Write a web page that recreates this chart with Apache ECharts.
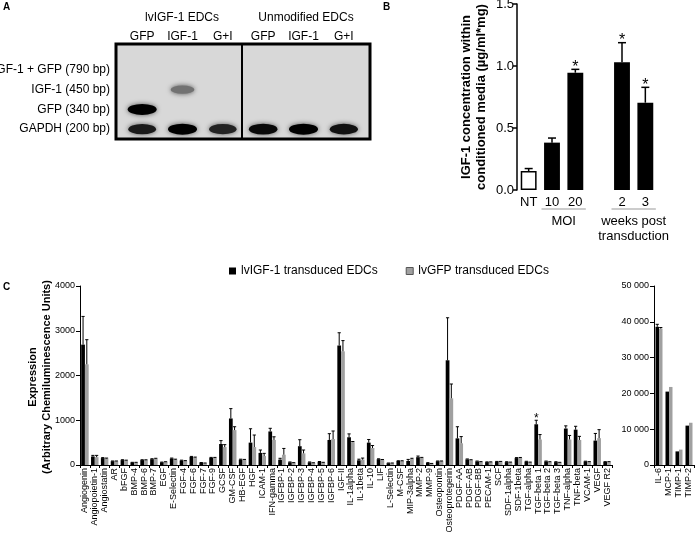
<!DOCTYPE html>
<html><head><meta charset="utf-8">
<script src="https://cdn.jsdelivr.net/npm/echarts@6/dist/echarts.min.js"></script>
<style>html,body{margin:0;padding:0;background:#fff}#c{width:695px;height:533px}</style>
</head><body><div id="c"></div>
<script>
const FONT = '"Liberation Sans", Arial, sans-serif';

// ---- Panel A (gel) ----
const gelLanes = ['GFP', 'IGF-1', 'G+I', 'GFP', 'IGF-1', 'G+I'];
const gelRows = ['GAPDH (200 bp)', 'GFP (340 bp)', 'IGF-1 (450 bp)', 'IGF-1 + GFP (790 bp)'];
// [lane index, row index, band intensity 0..1]
const gelBands = [[0, 1, 1.0], [0, 0, 0.85], [1, 2, 0.35], [1, 0, 1.0], [2, 0, 0.8], [3, 0, 0.95], [4, 0, 1.0], [5, 0, 0.9]];

// ---- Panel B ----
const bCats = ['NT', '10', '20', '', '2', '3'];
const bMeans = [0.153, 0.382, 0.946, null, 1.03, 0.704];
const bErr = [0.02, 0.037, 0.027, null, 0.158, 0.124];
const bSig = [0, 0, 1, 0, 1, 1];

// ---- Panel C (main) ----
const cCats = ['Angiogenin', 'Angiopoietin-1', 'Angiostatin', 'AR', 'bFGF', 'BMP-4', 'BMP-6', 'BMP-7', 'EGF', 'E-Selectin',
  'FGF-4', 'FGF-6', 'FGF-7', 'FGF-9', 'GCSF', 'GM-CSF', 'HB-EGF', 'HGF', 'ICAM-1', 'IFN-gamma',
  'IGFBP-1', 'IGFBP-2', 'IGFBP-3', 'IGFBP-4', 'IGFBP-5', 'IGFBP-6', 'IGF-II', 'IL-1alpha', 'IL-1beta', 'IL-10',
  'LIF', 'L-Selectin', 'M-CSF', 'MIP-3alpha', 'MMP-2', 'MMP-9', 'Osteopontin', 'Osteoprotegerin', 'PDGF-AA', 'PDGF-AB',
  'PDGF-BB', 'PECAM-1', 'SCF', 'SDF-1alpha', 'SDF-1beta', 'TGF-alpha', 'TGF-beta 1', 'TGF-beta 2', 'TGF-beta 3', 'TNF-alpha',
  'TNF-beta', 'VCAM-1', 'VEGF', 'VEGF R2'];
const cIGF = [2690, 190, 155, 85, 110, 55, 110, 130, 60, 145,
  100, 180, 50, 160, 470, 1040, 120, 500, 270, 750,
  120, 60, 420, 60, 70, 560, 2670, 620, 105, 500,
  130, 40, 90, 90, 175, 45, 85, 2340, 595, 125,
  80, 65, 75, 65, 155, 75, 910, 80, 65, 815,
  790, 80, 545, 70];
const cIGFErr = [630, 25, 10, 5, 8, 5, 8, 10, 5, 10,
  8, 12, 5, 10, 75, 220, 10, 310, 65, 70,
  30, 8, 145, 8, 8, 140, 285, 75, 25, 70,
  8, 5, 5, 35, 25, 8, 5, 950, 260, 10,
  8, 5, 5, 8, 10, 8, 90, 8, 8, 60,
  75, 5, 160, 5];
const cGFP = [2250, 175, 145, 85, 100, 55, 108, 140, 68, 118,
  90, 165, 40, 160, 400, 780, 115, 400, 200, 560,
  230, 45, 260, 45, 55, 580, 2540, 510, 120, 380,
  115, 40, 90, 135, 160, 30, 85, 1490, 485, 110,
  70, 65, 75, 60, 160, 60, 570, 68, 55, 570,
  560, 70, 600, 70];
const cGFPErr = [550, 40, 10, 5, 8, 5, 8, 10, 5, 12,
  8, 12, 5, 10, 55, 75, 10, 270, 60, 70,
  140, 8, 75, 5, 5, 180, 240, 15, 35, 55,
  8, 5, 5, 15, 10, 5, 5, 320, 150, 8,
  5, 5, 5, 5, 8, 5, 110, 5, 5, 90,
  80, 5, 190, 5];
const cSig = cCats.map(c => c === 'TGF-beta 1' ? 1 : 0);

// ---- Panel C (right, high abundance) ----
const dCats = ['IL-6', 'MCP-1', 'TIMP-1', 'TIMP-2'];
const dIGF = [38600, 20500, 3800, 11000];
const dIGFErr = [700, 0, 0, 0];
const dGFP = [38100, 21800, 4300, 11800];
const dGFPErr = [300, 0, 0, 0];

const S1 = 'lvIGF-1 transduced EDCs';
const S2 = 'lvGFP transduced EDCs';

function errSeries(xi, yi, means, errs, sig, side, nBars, gapFrac, capHalf, lw, starSize) {
  return {
    type: 'custom', xAxisIndex: xi, yAxisIndex: yi, z: 5, silent: true,
    data: means.map((m, i) => [i, m == null ? NaN : m, errs[i] == null ? 0 : errs[i], sig ? sig[i] : 0]),
    renderItem(params, api) {
      const m = api.value(1), e = api.value(2);
      if (m == null || isNaN(m)) return { type: 'group', children: [] };
      const band = api.size([1, 0])[0];
      const w = band * (1 - gapFrac) / nBars;
      const off = nBars === 1 ? 0 : (side === 0 ? -w / 2 : w / 2);
      const p0 = api.coord([api.value(0), m]);
      const p1 = api.coord([api.value(0), m + e]);
      const x = p0[0] + off;
      const children = [];
      if (e > 0) {
        children.push({ type: 'line', shape: { x1: x, y1: p0[1], x2: x, y2: p1[1] }, style: { stroke: '#000', lineWidth: lw } });
        children.push({ type: 'line', shape: { x1: x - capHalf, y1: p1[1], x2: x + capHalf, y2: p1[1] }, style: { stroke: '#000', lineWidth: lw } });
      }
      if (api.value(3)) {
        children.push({ type: 'text', style: { text: '*', x: x, y: p1[1] + starSize * 0.38, align: 'center', textAlign: 'center', verticalAlign: 'bottom', textVerticalAlign: 'bottom', font: starSize + 'px ' + FONT, fill: '#000' } });
      }
      return { type: 'group', children };
    }
  };
}

const chart = echarts.init(document.getElementById('c'), null, { renderer: 'canvas' });

const axisBase = {
  axisLine: { lineStyle: { color: '#000', width: 1 } },
  axisTick: { lineStyle: { color: '#000' } },
  axisLabel: { color: '#000', fontFamily: FONT },
  splitLine: { show: false }
};

const option = {
  animation: false,
  backgroundColor: '#fff',
  textStyle: { fontFamily: FONT },
  legend: {
    data: [{ name: S1 }, { name: S2, itemStyle: { borderColor: '#555', borderWidth: 1 } }],
    left: 224, top: 260, itemWidth: 7, itemHeight: 7, itemGap: 28, icon: 'rect',
    textStyle: { fontSize: 12, color: '#000', fontFamily: FONT }
  },
  grid: [
    { left: 122, top: 60, width: 242, height: 79, outerBoundsMode: 'none', containLabel: false },
    { left: 517, top: 4, width: 140, height: 186, outerBoundsMode: 'none', containLabel: false },
    { left: 80, top: 286, width: 532, height: 179, outerBoundsMode: 'none', containLabel: false },
    { left: 654, top: 286, width: 40, height: 179, outerBoundsMode: 'none', containLabel: false }
  ],
  xAxis: [
    { gridIndex: 0, type: 'category', data: gelLanes, position: 'top', axisLine: { show: false }, axisTick: { show: false },
      axisLabel: { color: '#000', fontSize: 12, margin: 17, interval: 0, fontFamily: FONT } },
    Object.assign({}, axisBase, { gridIndex: 1, type: 'category', data: bCats, axisLine: { show: false }, axisTick: { show: false },
      axisLabel: { color: '#000', fontSize: 13, margin: 6, interval: 0, fontFamily: FONT } }),
    Object.assign({}, axisBase, { gridIndex: 2, type: 'category', data: cCats,
      axisTick: { show: true, length: 3, interval: 0, lineStyle: { color: '#000' } },
      axisLabel: { color: '#000', fontSize: 9, rotate: 90, interval: 0, margin: 3, fontFamily: FONT } }),
    Object.assign({}, axisBase, { gridIndex: 3, type: 'category', data: dCats,
      axisTick: { show: true, length: 3, interval: 0, lineStyle: { color: '#000' } },
      axisLabel: { color: '#000', fontSize: 9, rotate: 90, interval: 0, margin: 3, fontFamily: FONT } })
  ],
  yAxis: [
    { gridIndex: 0, type: 'category', data: gelRows, axisLine: { show: false }, axisTick: { show: false },
      axisLabel: { color: '#000', fontSize: 12, margin: 12, interval: 0, fontFamily: FONT } },
    Object.assign({}, axisBase, { gridIndex: 1, type: 'value', min: 0, max: 1.5, interval: 0.5,
      axisLine: { show: true, lineStyle: { color: '#000', width: 1.5 } },
      axisTick: { show: true, length: 4, lineStyle: { color: '#000', width: 1.5 } },
      axisLabel: { color: '#000', fontSize: 13, margin: 3, fontFamily: FONT, formatter: v => v.toFixed(1) } }),
    Object.assign({}, axisBase, { gridIndex: 2, type: 'value', min: 0, max: 4000, interval: 1000,
      axisLine: { show: true, lineStyle: { color: '#000' } },
      axisTick: { show: true, length: 4, lineStyle: { color: '#000' } },
      axisLabel: { color: '#000', fontSize: 9, margin: 5, fontFamily: FONT, formatter: v => String(v) } }),
    Object.assign({}, axisBase, { gridIndex: 3, type: 'value', min: 0, max: 50000, interval: 10000,
      axisLine: { show: true, lineStyle: { color: '#000' } },
      axisTick: { show: true, length: 4, lineStyle: { color: '#000' } },
      axisLabel: { color: '#000', fontSize: 9, margin: 5, fontFamily: FONT,
        formatter: v => v === 0 ? '0' : (v / 1000) + ' 000' } })
  ],
  series: [
    // gel bands
    { type: 'scatter', xAxisIndex: 0, yAxisIndex: 0, silent: true, z: 3,
      data: gelBands,
      symbol: 'circle',
      symbolSize: d => [21 + 8 * d[2], 7 + 4 * d[2]],
      itemStyle: {
        color: p => { const g = Math.round(175 * (1 - p.data[2])); return 'rgb(' + g + ',' + g + ',' + g + ')'; },
        shadowBlur: 5,
        shadowColor: 'rgba(0,0,0,0.6)',
        opacity: 1
      }
    },
    // panel B
    { type: 'bar', xAxisIndex: 1, yAxisIndex: 1, barCategoryGap: '32%', silent: true,
      data: bMeans.map((v, i) => i === 0 ? { value: v, itemStyle: { color: '#fff', borderColor: '#000', borderWidth: 1.5 } } : (v == null ? '-' : v)),
      itemStyle: { color: '#000' } },
    errSeries(1, 1, bMeans, bErr, bSig, 0, 1, 0.32, 4, 1.5, 16),
    // panel C main
    { name: S1, type: 'bar', xAxisIndex: 2, yAxisIndex: 2, barGap: '0%', barCategoryGap: '24%', data: cIGF, itemStyle: { color: '#000' } },
    { name: S2, type: 'bar', xAxisIndex: 2, yAxisIndex: 2, barGap: '0%', barCategoryGap: '24%', data: cGFP, itemStyle: { color: '#a0a0a0' } },
    errSeries(2, 2, cIGF, cIGFErr, cSig, 0, 2, 0.24, 1.6, 1, 12),
    errSeries(2, 2, cGFP, cGFPErr, null, 1, 2, 0.24, 1.6, 1, 12),
    // panel C right
    { name: S1, type: 'bar', xAxisIndex: 3, yAxisIndex: 3, barGap: '0%', barCategoryGap: '30%', data: dIGF, itemStyle: { color: '#000' } },
    { name: S2, type: 'bar', xAxisIndex: 3, yAxisIndex: 3, barGap: '0%', barCategoryGap: '30%', data: dGFP, itemStyle: { color: '#a0a0a0' } },
    errSeries(3, 3, dIGF, dIGFErr, null, 0, 2, 0.30, 1.6, 1, 12),
    errSeries(3, 3, dGFP, dGFPErr, null, 1, 2, 0.30, 1.6, 1, 12)
  ],
  graphic: [
    { type: 'text', x: 3, y: 2, style: { text: 'A', font: 'bold 10px ' + FONT, fill: '#000' } },
    { type: 'text', x: 383, y: 2, style: { text: 'B', font: 'bold 10px ' + FONT, fill: '#000' } },
    { type: 'text', x: 3, y: 282, style: { text: 'C', font: 'bold 10px ' + FONT, fill: '#000' } },
    // gel frame
    { type: 'rect', z: -1, shape: { x: 116, y: 44, width: 254, height: 95 }, style: { fill: '#d8d8d8', stroke: '#000', lineWidth: 3 } },
    { type: 'line', z: 10, shape: { x1: 242, y1: 44, x2: 242, y2: 139 }, style: { stroke: '#000', lineWidth: 2 } },
    { type: 'text', x: 182, y: 18, style: { text: 'lvIGF-1 EDCs', font: '12px ' + FONT, fill: '#000', align: 'center', textAlign: 'center', verticalAlign: 'middle', textVerticalAlign: 'middle' } },
    { type: 'text', x: 306, y: 18, style: { text: 'Unmodified EDCs', font: '12px ' + FONT, fill: '#000', align: 'center', textAlign: 'center', verticalAlign: 'middle', textVerticalAlign: 'middle' } },
    // B y title
    { type: 'text', x: 466, y: 97, rotation: Math.PI / 2, style: { text: 'IGF-1 concentration within', font: 'bold 13px ' + FONT, fill: '#000', align: 'center', textAlign: 'center', verticalAlign: 'middle', textVerticalAlign: 'middle' } },
    { type: 'text', x: 481, y: 97, rotation: Math.PI / 2, style: { text: 'conditioned media (µg/ml*mg)', font: 'bold 13px ' + FONT, fill: '#000', align: 'center', textAlign: 'center', verticalAlign: 'middle', textVerticalAlign: 'middle' } },
    // C y title
    { type: 'text', x: 33, y: 377, rotation: Math.PI / 2, style: { text: 'Expression', font: 'bold 11px ' + FONT, fill: '#000', align: 'center', textAlign: 'center', verticalAlign: 'middle', textVerticalAlign: 'middle' } },
    { type: 'text', x: 47, y: 377, rotation: Math.PI / 2, style: { text: '(Arbitrary Chemiluminescence Units)', font: 'bold 11px ' + FONT, fill: '#000', align: 'center', textAlign: 'center', verticalAlign: 'middle', textVerticalAlign: 'middle' } }
  ]
};
chart.setOption(option);

// Group annotations under panel B computed from the axis scale
const px = i => chart.convertToPixel({ xAxisIndex: 1 }, i);
const half = px(1) - px(0);
const gy = 209;
const x10 = px(1), x20 = px(2), x2 = px(4), x3 = px(5);
const extra = [
  { type: 'line', shape: { x1: x10 - half * 0.45, y1: gy, x2: x20 + half * 0.45, y2: gy }, style: { stroke: '#999', lineWidth: 1 } },
  { type: 'line', shape: { x1: x2 - half * 0.45, y1: gy, x2: x3 + half * 0.45, y2: gy }, style: { stroke: '#999', lineWidth: 1 } },
  { type: 'text', x: (x10 + x20) / 2, y: 221, style: { text: 'MOI', font: '13px ' + FONT, fill: '#000', align: 'center', textAlign: 'center', verticalAlign: 'middle', textVerticalAlign: 'middle' } },
  { type: 'text', x: (x2 + x3) / 2, y: 221, style: { text: 'weeks post', font: '13px ' + FONT, fill: '#000', align: 'center', textAlign: 'center', verticalAlign: 'middle', textVerticalAlign: 'middle' } },
  { type: 'text', x: (x2 + x3) / 2, y: 236, style: { text: 'transduction', font: '13px ' + FONT, fill: '#000', align: 'center', textAlign: 'center', verticalAlign: 'middle', textVerticalAlign: 'middle' } }
];
chart.setOption({ graphic: option.graphic.concat(extra) });
</script>
</body></html>
